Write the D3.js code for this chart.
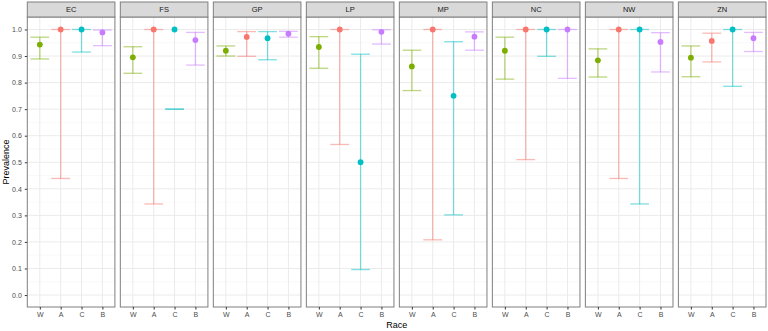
<!DOCTYPE html>
<html>
<head>
<meta charset="utf-8">
<script src="https://cdn.jsdelivr.net/npm/d3@7"></script>
<style>
  body { margin: 0; background: #fff; }
  text { font-family: "Liberation Sans", Arial, sans-serif; }
</style>
</head>
<body>
<svg id="chart"></svg>
<script>
// facets and race categories
const panels = ["EC", "FS", "GP", "LP", "MP", "NC", "NW", "ZN"];
const races = ["W", "A", "C", "B"];
const yTicks = [0, 0.1, 0.2, 0.3, 0.4, 0.5, 0.6, 0.7, 0.8, 0.9, 1.0];

// prevalence estimate per panel, in race order W, A, C, B
const prevalence = {
  EC: [0.943, 1.0, 1.0, 0.989],
  FS: [0.895, 1.0, 1.0, 0.960],
  GP: [0.920, 0.972, 0.967, 0.984],
  LP: [0.934, 1.0, 0.5, 0.991],
  MP: [0.861, 1.0, 0.75, 0.973],
  NC: [0.920, 1.0, 1.0, 1.0],
  NW: [0.884, 1.0, 1.0, 0.953],
  ZN: [0.894, 0.957, 1.0, 0.967]
};
// lower confidence bound
const lower = {
  EC: [0.889, 0.439, 0.915, 0.939],
  FS: [0.835, 0.343, 0.700, 0.866],
  GP: [0.900, 0.899, 0.886, 0.971],
  LP: [0.854, 0.567, 0.096, 0.945],
  MP: [0.770, 0.208, 0.302, 0.922],
  NC: [0.813, 0.510, 0.899, 0.816],
  NW: [0.821, 0.439, 0.343, 0.840],
  ZN: [0.822, 0.878, 0.786, 0.917]
};
// upper confidence bound
const upper = {
  EC: [0.971, 1.0, 1.0, 0.998],
  FS: [0.935, 1.0, 0.700, 0.989],
  GP: [0.938, 0.992, 0.992, 0.993],
  LP: [0.973, 1.0, 0.907, 0.999],
  MP: [0.922, 1.0, 0.954, 0.991],
  NC: [0.971, 1.0, 1.0, 1.0],
  NW: [0.927, 1.0, 1.0, 0.988],
  ZN: [0.938, 0.986, 1.0, 0.989]
};

const raceColors = ["#7CAE00", "#F8766D", "#00BFC4", "#C77CFF"];

const width = 768, height = 331;
const margin = { top: 2, right: 2, bottom: 24, left: 27.3 };
const stripH = 15;
const gap = 5.4;

const svg = d3.select("#chart").attr("width", width).attr("height", height);

const innerW = width - margin.left - margin.right;
const panelW = (innerW - gap * (panels.length - 1)) / panels.length;
const panelTop = margin.top + stripH;
const panelBottom = height - margin.bottom;

// y: small expansion below 0 and above 1, like ggplot
const y = d3.scaleLinear().domain([-0.045, 1.047]).range([panelBottom, panelTop]);
const color = d3.scaleOrdinal().domain(races).range(raceColors);

// y axis tick labels (left of first panel)
const yAxis = svg.append("g").attr("transform", `translate(${margin.left},0)`)
  .call(d3.axisLeft(y).tickValues(yTicks).tickFormat(d3.format(".1f")).tickSize(2.5));
yAxis.select(".domain").remove();
yAxis.selectAll("line").attr("stroke", "#333");
yAxis.selectAll("text").attr("fill", "#4d4d4d").style("font-size", "7px");

panels.forEach((p, i) => {
  const x0 = margin.left + i * (panelW + gap);
  const g = svg.append("g").attr("transform", `translate(${x0},0)`);

  const step = panelW / (races.length - 1 + 1.2);
  const x = d3.scalePoint().domain(races).range([0.6 * step, panelW - 0.6 * step]);

  // minor grid
  g.append("g").selectAll("line")
    .data(d3.range(0.05, 1.0, 0.1))
    .join("line")
    .attr("x1", 0).attr("x2", panelW)
    .attr("y1", d => y(d)).attr("y2", d => y(d))
    .attr("stroke", "#f2f2f2").attr("stroke-width", 0.5);
  // major grid
  g.append("g").selectAll("line")
    .data(yTicks)
    .join("line")
    .attr("x1", 0).attr("x2", panelW)
    .attr("y1", d => y(d)).attr("y2", d => y(d))
    .attr("stroke", "#ebebeb").attr("stroke-width", 1);
  g.append("g").selectAll("line")
    .data(races)
    .join("line")
    .attr("x1", d => x(d)).attr("x2", d => x(d))
    .attr("y1", panelTop).attr("y2", panelBottom)
    .attr("stroke", "#ebebeb").attr("stroke-width", 1);

  const rows = races.map((r, j) => ({
    race: r, est: prevalence[p][j], lo: lower[p][j], hi: upper[p][j]
  }));
  const capW = step * 0.9;

  // error bars
  const eb = g.append("g").attr("stroke-opacity", 0.5).attr("stroke-width", 1.3);
  rows.forEach(d => {
    const c = color(d.race);
    if (d.hi > d.lo) {
      eb.append("line")
        .attr("x1", x(d.race)).attr("x2", x(d.race))
        .attr("y1", y(d.lo)).attr("y2", y(d.hi)).attr("stroke", c);
    }
    [d.lo, d.hi].forEach(v => {
      eb.append("line")
        .attr("x1", x(d.race) - capW / 2).attr("x2", x(d.race) + capW / 2)
        .attr("y1", y(v)).attr("y2", y(v)).attr("stroke", c);
    });
  });

  // points
  g.append("g").selectAll("circle")
    .data(rows)
    .join("circle")
    .attr("cx", d => x(d.race))
    .attr("cy", d => y(d.est))
    .attr("r", 2.9)
    .attr("fill", d => color(d.race));

  // panel border
  g.append("rect")
    .attr("x", 0).attr("y", panelTop)
    .attr("width", panelW).attr("height", panelBottom - panelTop)
    .attr("fill", "none").attr("stroke", "#7f7f7f").attr("stroke-width", 1);

  // strip
  g.append("rect")
    .attr("x", 0).attr("y", margin.top)
    .attr("width", panelW).attr("height", stripH)
    .attr("fill", "#d9d9d9").attr("stroke", "#7f7f7f").attr("stroke-width", 1);
  g.append("text")
    .attr("x", panelW / 2).attr("y", margin.top + stripH / 2)
    .attr("dy", "0.35em").attr("text-anchor", "middle")
    .attr("fill", "#1a1a1a").style("font-size", "7.5px")
    .text(p);

  // x axis
  const xAxis = g.append("g").attr("transform", `translate(0,${panelBottom})`)
    .call(d3.axisBottom(x).tickSize(2.5));
  xAxis.select(".domain").remove();
  xAxis.selectAll("line").attr("stroke", "#333");
  xAxis.selectAll("text").attr("fill", "#4d4d4d").style("font-size", "7px").attr("dy", "0.6em");
});

// axis titles
svg.append("text")
  .attr("x", margin.left + innerW / 2).attr("y", height - 3)
  .attr("text-anchor", "middle").style("font-size", "9px").attr("fill", "#000")
  .text("Race");
svg.append("text")
  .attr("transform", "rotate(-90)")
  .attr("x", -(panelTop + panelBottom) / 2).attr("y", 9)
  .attr("text-anchor", "middle").style("font-size", "9px").attr("fill", "#000")
  .text("Prevalence");
</script>
</body>
</html>
